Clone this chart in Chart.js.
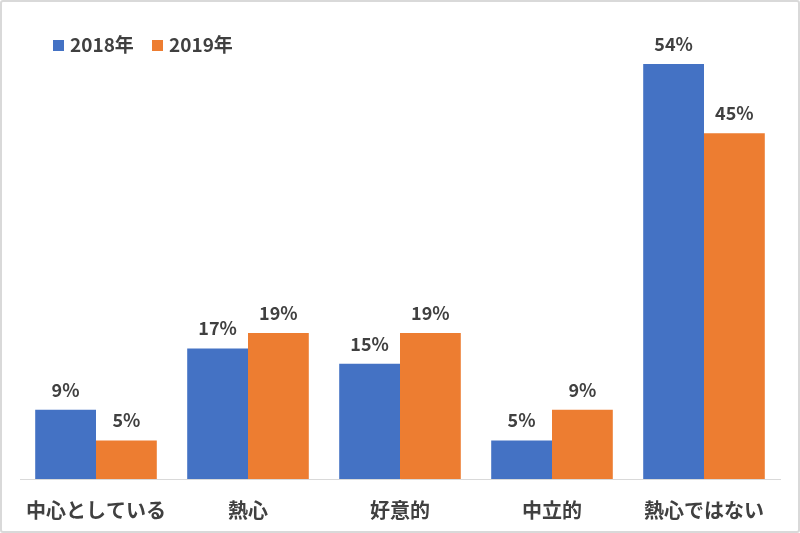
<!DOCTYPE html>
<html>
<head>
<meta charset="utf-8">
<script src="https://cdn.jsdelivr.net/npm/chart.js@4"></script>
<style>
  html, body { margin: 0; padding: 0; background: #fff; }
  #wrap {
    position: absolute; left: 0; top: 0;
    width: 796px; height: 529px;
    border: 2px solid #d9d9d9; border-radius: 3px;
    background: #fff;
  }
</style>
</head>
<body>
<div id="wrap"><canvas id="chart" width="796" height="529"></canvas></div>
<script>
const categories = ["中心としている", "熱心", "好意的", "中立的", "熱心ではない"];
const values2018 = [9, 17, 15, 5, 54];
const values2019 = [5, 19, 19, 9, 45];
const seriesNames = ["2018年", "2019年"];

const fontFamily = "'Noto Sans CJK JP', 'Noto Sans', sans-serif";
const textColor = "#404040";

// value labels above each bar
const barLabels = {
    id: "barLabels",
    afterDatasetsDraw(chart) {
        const ctx = chart.ctx;
        ctx.save();
        ctx.font = "bold 18px " + fontFamily;
        ctx.fillStyle = textColor;
        ctx.textAlign = "center";
        ctx.textBaseline = "middle";
        chart.data.datasets.forEach((ds, i) => {
            chart.getDatasetMeta(i).data.forEach((bar, j) => {
                ctx.fillText(ds.data[j] + "%", bar.x, bar.y - 20);
            });
        });
        ctx.restore();
    }
};

// legend drawn inside the plot, top left, on one row
const topLegend = {
    id: "topLegend",
    afterDraw(chart) {
        const ctx = chart.ctx;
        ctx.save();
        ctx.font = "bold 19px " + fontFamily;
        ctx.textBaseline = "middle";
        ctx.textAlign = "left";
        let x = 51;
        const y = 43;
        chart.data.datasets.forEach(ds => {
            ctx.fillStyle = ds.backgroundColor;
            ctx.fillRect(x, y - 5, 11, 11);
            ctx.fillStyle = textColor;
            ctx.fillText(ds.label, x + 17, y);
            x += 99;
        });
        ctx.restore();
    }
};

const ctx = document.getElementById("chart").getContext("2d");
new Chart(ctx, {
    type: "bar",
    data: {
        labels: categories,
        datasets: [
            { label: seriesNames[0], data: values2018, backgroundColor: "#4472C4" },
            { label: seriesNames[1], data: values2019, backgroundColor: "#ED7D31" }
        ]
    },
    options: {
        responsive: false,
        animation: false,
        layout: { padding: { left: 18, right: 18, top: 16, bottom: 0 } },
        datasets: {
            bar: { categoryPercentage: 0.8, barPercentage: 1.0 }
        },
        plugins: {
            legend: { display: false },
            tooltip: { enabled: false }
        },
        scales: {
            x: {
                grid: { display: false, drawTicks: false },
                border: { color: "#d9d9d9", width: 1 },
                ticks: {
                    padding: 19,
                    maxRotation: 0,
                    color: textColor,
                    font: { family: fontFamily, size: 20, weight: "bold" }
                },
                afterFit(scale) { scale.height = 52; }
            },
            y: {
                display: false,
                min: 0,
                max: 60
            }
        }
    },
    plugins: [barLabels, topLegend]
});
</script>
</body>
</html>
